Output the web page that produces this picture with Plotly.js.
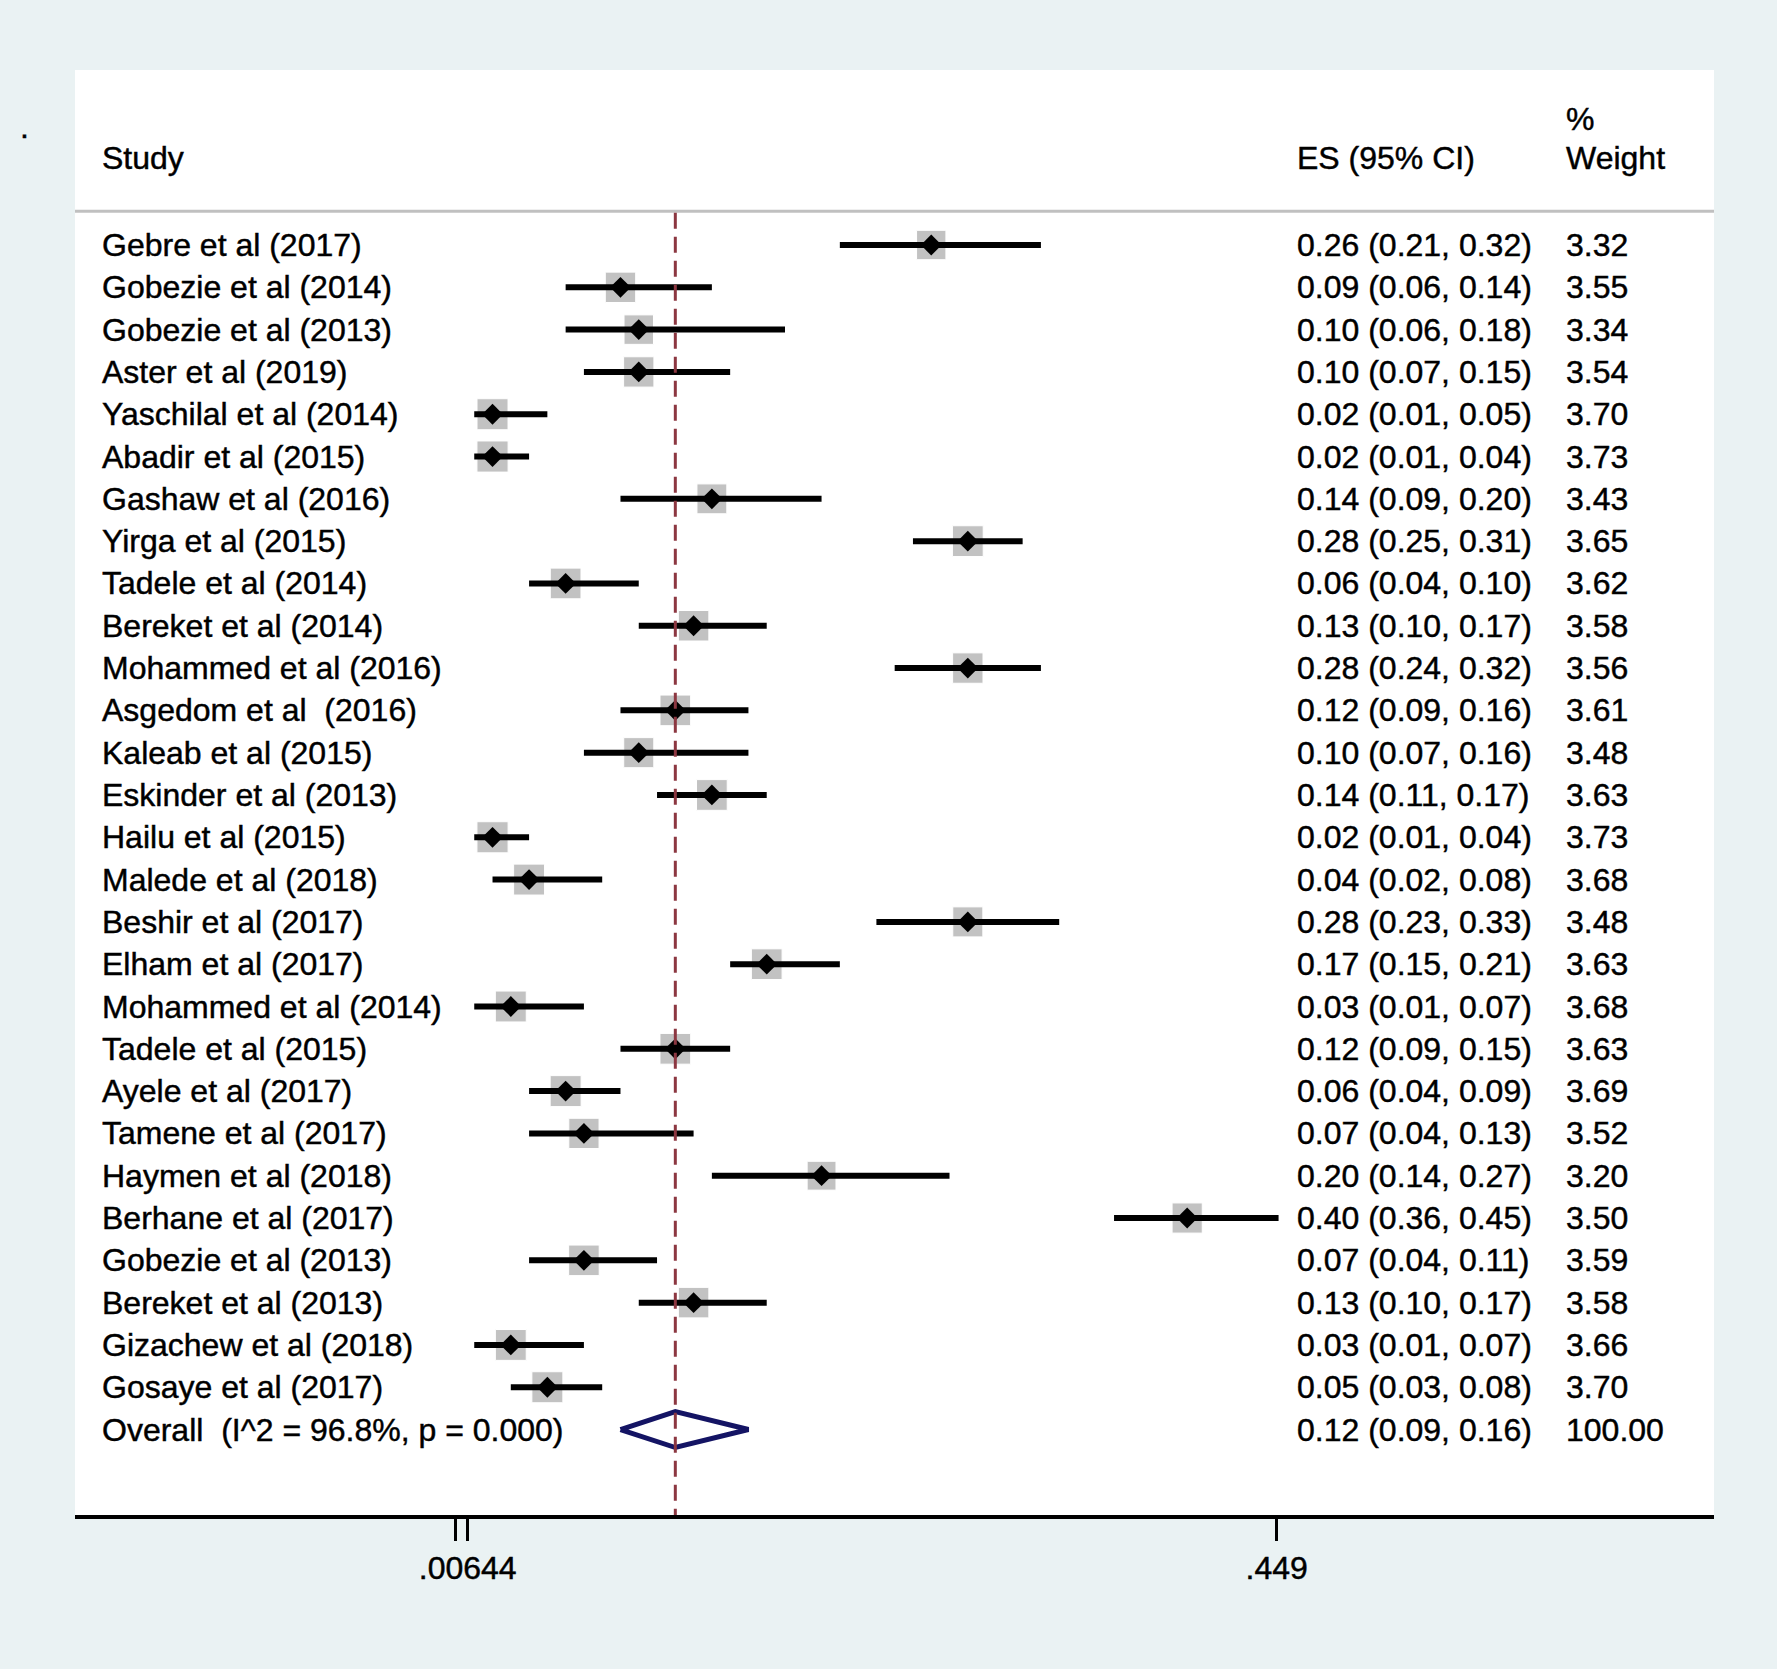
<!DOCTYPE html>
<html>
<head>
<meta charset="utf-8">
<script src="https://cdn.plot.ly/plotly-3.0.1.min.js"></script>
<style>
  body { margin: 0; background: #eaf2f3; }
  #grafico { width: 1777px; height: 1669px; }
  #grafico text { stroke: black; stroke-width: 0.45px; }
</style>
</head>
<body>
<div id="grafico"></div>
<script>
// Studies, effect sizes, confidence intervals and weights (%)
const estudios = [
    'Gebre et al (2017)', 'Gobezie et al (2014)', 'Gobezie et al (2013)', 'Aster et al (2019)',
    'Yaschilal et al (2014)', 'Abadir et al (2015)', 'Gashaw et al (2016)', 'Yirga et al (2015)',
    'Tadele et al (2014)', 'Bereket et al (2014)', 'Mohammed et al (2016)', 'Asgedom et al\u00a0 (2016)',
    'Kaleab et al (2015)', 'Eskinder et al (2013)', 'Hailu et al (2015)', 'Malede et al (2018)',
    'Beshir et al (2017)', 'Elham et al (2017)', 'Mohammed et al (2014)', 'Tadele et al (2015)',
    'Ayele et al (2017)', 'Tamene et al (2017)', 'Haymen et al (2018)', 'Berhane et al (2017)',
    'Gobezie et al (2013)', 'Bereket et al (2013)', 'Gizachew et al (2018)', 'Gosaye et al (2017)'
];
const es = [0.26, 0.09, 0.10, 0.10, 0.02, 0.02, 0.14, 0.28, 0.06, 0.13, 0.28, 0.12, 0.10, 0.14,
            0.02, 0.04, 0.28, 0.17, 0.03, 0.12, 0.06, 0.07, 0.20, 0.40, 0.07, 0.13, 0.03, 0.05];
const ciLow = [0.21, 0.06, 0.06, 0.07, 0.01, 0.01, 0.09, 0.25, 0.04, 0.10, 0.24, 0.09, 0.07, 0.11,
               0.01, 0.02, 0.23, 0.15, 0.01, 0.09, 0.04, 0.04, 0.14, 0.36, 0.04, 0.10, 0.01, 0.03];
const ciHigh = [0.32, 0.14, 0.18, 0.15, 0.05, 0.04, 0.20, 0.31, 0.10, 0.17, 0.32, 0.16, 0.16, 0.17,
                0.04, 0.08, 0.33, 0.21, 0.07, 0.15, 0.09, 0.13, 0.27, 0.45, 0.11, 0.17, 0.07, 0.08];
const pesos = [3.32, 3.55, 3.34, 3.54, 3.70, 3.73, 3.43, 3.65, 3.62, 3.58, 3.56, 3.61, 3.48, 3.63,
               3.73, 3.68, 3.48, 3.63, 3.68, 3.63, 3.69, 3.52, 3.20, 3.50, 3.59, 3.58, 3.66, 3.70];

// Pooled estimate
const overallLabel = 'Overall\u00a0 (I^2 = 96.8%, p = 0.000)';
const overallES = [0.12];
const overallCI = [0.09, 0.16];
const overallPeso = [100.00];

// Axis ticks
const tickValues = [0, 0.00644, 0.449];
const tickLabels = ['', '.00644', '.449'];

const fuente = { family: '"Liberation Sans", Arial, sans-serif', size: 32, color: 'black' };
const filas = estudios.map((_, i) => i);
const filaOverall = estudios.length;
const medioDiamante = 0.425;

// Gray weight boxes
const cajas = {
    x: es, y: filas, mode: 'markers', type: 'scatter', hoverinfo: 'skip',
    marker: { symbol: 'square', color: '#a9a9a9', size: pesos.map(w => 31 * Math.sqrt(w / 3.7)) }
};

// CI lines
const lineasX = [], lineasY = [];
filas.forEach(i => {
    lineasX.push(ciLow[i], ciHigh[i], null);
    lineasY.push(i, i, null);
});
const lineas = {
    x: lineasX, y: lineasY, mode: 'lines', type: 'scatter', hoverinfo: 'skip',
    line: { color: 'black', width: 6 }
};

// Point estimates
const puntos = {
    x: es, y: filas, mode: 'markers', type: 'scatter', hoverinfo: 'skip',
    marker: { symbol: 'diamond', color: 'black', size: 16 }
};

// Overall diamond
const diamante = {
    x: [overallCI[0], overallES[0], overallCI[1], overallES[0], overallCI[0]],
    y: [filaOverall, filaOverall - medioDiamante, filaOverall, filaOverall + medioDiamante, filaOverall],
    mode: 'lines', type: 'scatter', hoverinfo: 'skip',
    line: { color: '#141464', width: 5 }
};

// Text columns
const xEstudio = 0.0155, xES = 0.7444, xPeso = 0.9085;
const anotaciones = [];
function texto(x, y, t) {
    anotaciones.push({ xref: 'paper', yref: 'y', x: x, y: y, text: t, showarrow: false,
                       xanchor: 'left', yanchor: 'middle', font: fuente });
}
const fmtCI = (e, l, h) => `${e.toFixed(2)} (${l.toFixed(2)}, ${h.toFixed(2)})`;

texto(xEstudio, -2.05, 'Study');
texto(xES, -2.05, 'ES (95% CI)');
texto(xPeso, -2.98, '%');
texto(xPeso, -2.05, 'Weight');
anotaciones.push({ xref: 'paper', yref: 'y', x: -0.031, y: -2.8, text: '.', showarrow: false,
                   xanchor: 'center', yanchor: 'middle', font: fuente });

filas.forEach(i => {
    texto(xEstudio, i, estudios[i]);
    texto(xES, i, fmtCI(es[i], ciLow[i], ciHigh[i]));
    texto(xPeso, i, pesos[i].toFixed(2));
});
texto(xEstudio, filaOverall, overallLabel);
texto(xES, filaOverall, fmtCI(overallES[0], overallCI[0], overallCI[1]));
texto(xPeso, filaOverall, overallPeso[0].toFixed(2));

const layout = {
    width: 1777, height: 1669,
    margin: { l: 75, r: 63, t: 70, b: 154, pad: 0 },
    paper_bgcolor: '#eaf2f3',
    plot_bgcolor: 'white',
    showlegend: false,
    font: fuente,
    xaxis: {
        range: [-0.2084, 0.6882],
        tickvals: tickValues, ticktext: tickLabels,
        ticks: 'outside', ticklen: 22, tickwidth: 3, tickcolor: 'black',
        showline: true, linecolor: 'black', linewidth: 4,
        showgrid: false, zeroline: false,
        tickfont: fuente
    },
    yaxis: { range: [30.02, -4.137], visible: false },
    shapes: [
        { type: 'line', xref: 'paper', yref: 'y', x0: 0, x1: 1, y0: -0.8, y1: -0.8,
          line: { color: '#c0c0c0', width: 3 } },
        { type: 'line', xref: 'x', yref: 'y', x0: overallES[0], x1: overallES[0], y0: -0.76, y1: 30.02,
          line: { color: '#8c3741', width: 3, dash: '16px,8px' } }
    ],
    annotations: anotaciones
};

Plotly.newPlot('grafico', [cajas, lineas, puntos, diamante], layout, { displayModeBar: false });
</script>
</body>
</html>
